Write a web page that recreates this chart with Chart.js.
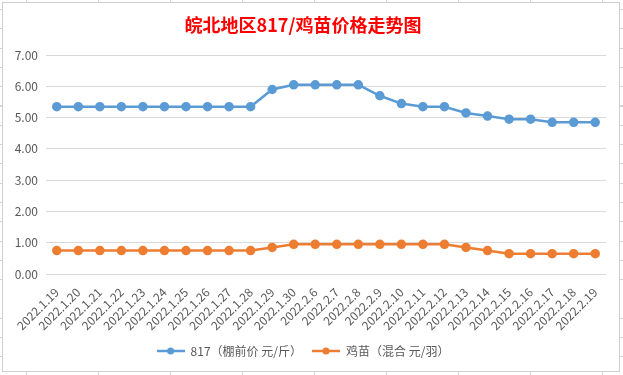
<!DOCTYPE html>
<html>
<head>
<meta charset="utf-8">
<script src="https://cdn.jsdelivr.net/npm/chart.js@4"></script>
<style>
    html, body { margin: 0; padding: 0; }
    body {
        width: 623px; height: 375px; overflow: hidden; position: relative;
        background-color: #fff;
        background-image:
            repeating-linear-gradient(to right, transparent 0, transparent 26px, #d4d4d4 26px, #d4d4d4 27px, transparent 27px, transparent 72px),
            repeating-linear-gradient(to bottom, transparent 0, transparent 9px, #d4d4d4 9px, #d4d4d4 10px, transparent 10px, transparent 19.3px);
    }
    #frame {
        position: absolute; left: 2px; top: 2px; width: 616px; height: 368px;
        border: 1px solid #cfcfcf; background: #fff;
    }
    #chart-canvas { position: absolute; left: 0; top: 0; }
</style>
</head>
<body>
<div id="frame"></div>
<canvas id="chart-canvas" width="623" height="375"></canvas>
<script>
const labels = [
    '2022.1.19', '2022.1.20', '2022.1.21', '2022.1.22', '2022.1.23', '2022.1.24',
    '2022.1.25', '2022.1.26', '2022.1.27', '2022.1.28', '2022.1.29', '2022.1.30',
    '2022.2.6', '2022.2.7', '2022.2.8', '2022.2.9', '2022.2.10', '2022.2.11',
    '2022.2.12', '2022.2.13', '2022.2.14', '2022.2.15', '2022.2.16', '2022.2.17',
    '2022.2.18', '2022.2.19'
];
const price817 = [
    5.35, 5.35, 5.35, 5.35, 5.35, 5.35, 5.35, 5.35, 5.35, 5.35, 5.9, 6.05,
    6.05, 6.05, 6.05, 5.7, 5.45, 5.35, 5.35, 5.15, 5.05, 4.95, 4.95, 4.85,
    4.85, 4.85
];
const chickPrice = [
    0.75, 0.75, 0.75, 0.75, 0.75, 0.75, 0.75, 0.75, 0.75, 0.75, 0.85, 0.95,
    0.95, 0.95, 0.95, 0.95, 0.95, 0.95, 0.95, 0.85, 0.75, 0.65, 0.65, 0.65,
    0.65, 0.65
];
const seriesNames = ['817（棚前价 元/斤）', '鸡苗（混合 元/羽）'];
const yTicks = [0, 1, 2, 3, 4, 5, 6, 7];

const BLUE = '#5b9bd5';
const ORANGE = '#ed7d31';
const TEXT = '#595959';
const FONT = '"Noto Sans CJK SC", "Noto Sans", sans-serif';

// little line-with-dot swatch for the legend
function swatch(color) {
    const c = document.createElement('canvas');
    c.width = 28; c.height = 10;
    const g = c.getContext('2d');
    g.strokeStyle = color; g.lineWidth = 2.5;
    g.beginPath(); g.moveTo(0, 5); g.lineTo(28, 5); g.stroke();
    g.fillStyle = color;
    g.beginPath(); g.arc(14, 5, 3.5, 0, Math.PI * 2); g.fill();
    return c;
}

const ctx = document.getElementById('chart-canvas').getContext('2d');
new Chart(ctx, {
    type: 'line',
    data: {
        labels: labels,
        datasets: [{
            label: seriesNames[0],
            data: price817,
            borderColor: BLUE,
            backgroundColor: BLUE,
            borderWidth: 2.5,
            pointRadius: 3.5,
            tension: 0
        }, {
            label: seriesNames[1],
            data: chickPrice,
            borderColor: ORANGE,
            backgroundColor: ORANGE,
            borderWidth: 2.5,
            pointRadius: 3.5,
            tension: 0
        }]
    },
    options: {
        responsive: false,
        animation: false,
        layout: { padding: { left: 0, right: 17, top: 0, bottom: 8 } },
        plugins: {
            title: {
                display: true,
                text: '皖北地区817/鸡苗价格走势图',
                color: '#ff0000',
                font: { family: FONT, size: 18, weight: 'bold' },
                padding: { top: 14, bottom: 19.5 }
            },
            legend: {
                position: 'bottom',
                labels: {
                    color: TEXT,
                    font: { family: FONT, size: 12 },
                    usePointStyle: true,
                    pointStyleWidth: 28,
                    padding: 10,
                    generateLabels: (chart) => chart.data.datasets.map((ds, i) => ({
                        text: ds.label,
                        fontColor: TEXT,
                        pointStyle: swatch(ds.borderColor),
                        datasetIndex: i,
                        hidden: false
                    }))
                }
            },
            tooltip: { enabled: false }
        },
        scales: {
            x: {
                offset: true,
                grid: { display: false },
                border: { display: false },
                ticks: {
                    color: TEXT,
                    font: { family: FONT, size: 12 },
                    autoSkip: false,
                    minRotation: 45,
                    maxRotation: 45,
                    padding: 3
                },
                afterFit: (scale) => { scale.height = 61; }
            },
            y: {
                min: 0,
                max: 7,
                afterBuildTicks: (scale) => { scale.ticks = yTicks.map(v => ({ value: v })); },
                grid: { color: '#d9d9d9', drawTicks: false },
                border: { display: false },
                ticks: {
                    color: TEXT,
                    font: { family: FONT, size: 12 },
                    padding: 8,
                    callback: (v) => Number(v).toFixed(2)
                },
                afterFit: (scale) => { scale.width = 46; }
            }
        }
    }
});
</script>
</body>
</html>
